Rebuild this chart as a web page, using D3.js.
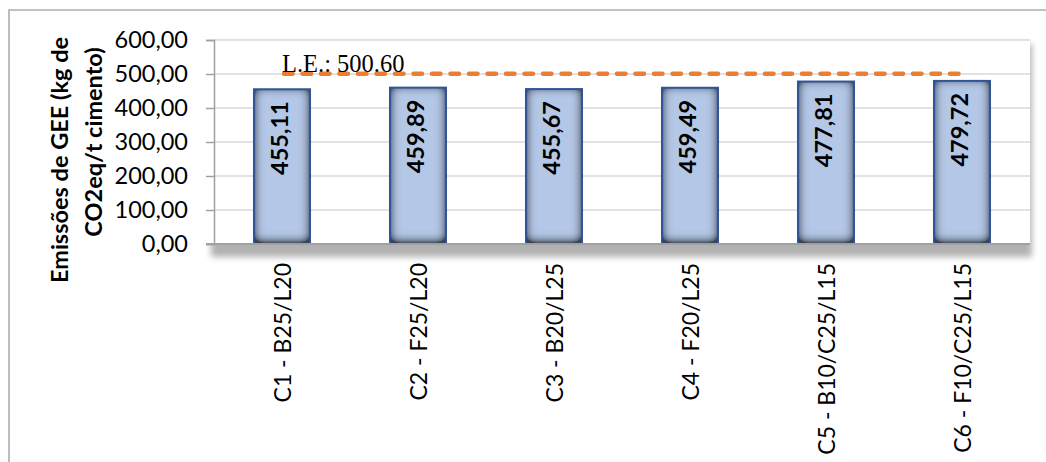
<!DOCTYPE html>
<html>
<head>
<meta charset="utf-8">
<script src="https://cdn.jsdelivr.net/npm/d3@7"></script>
<style>
  html, body { margin: 0; padding: 0; background: #fff; }
  svg { display: block; }
</style>
</head>
<body>
<svg id="chart" width="1046" height="462"></svg>
<script>
// Emissões de GEE por composição de cimento
const categories = ["C1 - B25/L20", "C2 - F25/L20", "C3 - B20/L25", "C4 - F20/L25", "C5 - B10/C25/L15", "C6 - F10/C25/L15"];
const emissions = [455.11, 459.89, 455.67, 459.49, 477.81, 479.72];
const limitValue = 500.60;
const limitLabel = "L.E.: 500.60";
const yTicks = [0, 100, 200, 300, 400, 500, 600];
const yTitleLines = ["Emissões de GEE (kg de", "CO2eq/t cimento)"];

const W = 1046, H = 462;
const plot = { left: 214, right: 1030, top: 40, bottom: 244 };
const sans = "Lato, 'Open Sans', sans-serif";

const svg = d3.select("#chart");
const defs = svg.append("defs");

// soft shadow behind the plot area
defs.append("filter").attr("id", "plotShadow")
  .attr("x", "-5%").attr("y", "-20%").attr("width", "110%").attr("height", "140%")
  .append("feGaussianBlur").attr("stdDeviation", 3);

// inner shadow giving the bars their bevelled look
const inner = defs.append("filter").attr("id", "innerShadow")
  .attr("x", "-60%").attr("y", "-30%").attr("width", "220%").attr("height", "160%");
inner.append("feComponentTransfer").attr("in", "SourceAlpha").attr("result", "inv")
  .append("feFuncA").attr("type", "table").attr("tableValues", "1 0");
inner.append("feGaussianBlur").attr("in", "inv").attr("stdDeviation", 5.5).attr("result", "blur");
inner.append("feOffset").attr("in", "blur").attr("dy", -2.5).attr("result", "off");
inner.append("feComponentTransfer").attr("in", "off").attr("result", "boost")
  .append("feFuncA").attr("type", "linear").attr("slope", 1.7).attr("intercept", 0);
inner.append("feFlood").attr("flood-color", "#222a38").attr("flood-opacity", 0.95).attr("result", "col");
inner.append("feComposite").attr("in", "col").attr("in2", "boost").attr("operator", "in").attr("result", "sh");
inner.append("feComposite").attr("in", "sh").attr("in2", "SourceAlpha").attr("operator", "in").attr("result", "innerSh");
const merge = inner.append("feMerge");
merge.append("feMergeNode").attr("in", "SourceGraphic");
merge.append("feMergeNode").attr("in", "innerSh");

// chart frame (left and top edges)
svg.append("path")
  .attr("d", `M9,${H} L9,10 L${W},10`)
  .attr("fill", "none").attr("stroke", "#ADADAD").attr("stroke-width", 1.6);

// scales
const x = d3.scaleBand()
  .domain(categories)
  .range([plot.left, plot.right])
  .paddingInner(0.588)
  .paddingOuter(0.294);

const y = d3.scaleLinear()
  .domain([0, 600])
  .range([plot.bottom, plot.top]);

// plot area with shadow
svg.append("rect")
  .attr("x", plot.left - 3).attr("y", plot.top + 4)
  .attr("width", plot.right - plot.left + 5).attr("height", plot.bottom - plot.top + 9)
  .attr("fill", "#000").attr("opacity", 0.3)
  .attr("filter", "url(#plotShadow)");
svg.append("rect")
  .attr("x", plot.left).attr("y", plot.top)
  .attr("width", plot.right - plot.left).attr("height", plot.bottom - plot.top)
  .attr("fill", "#fff");
// keep the area left of the axis clean above the shadow band
svg.append("rect")
  .attr("x", plot.left - 8).attr("y", plot.top)
  .attr("width", 8).attr("height", plot.bottom - plot.top)
  .attr("fill", "#fff");

// gridlines
svg.append("g").selectAll("line")
  .data(yTicks.filter(d => d > 0))
  .join("line")
  .attr("x1", plot.left).attr("x2", plot.right)
  .attr("y1", d => y(d)).attr("y2", d => y(d))
  .attr("stroke", "#D9D9D9").attr("stroke-width", 1.5);

// y axis
const fmt = d => d.toFixed(2).replace(".", ",");
const yAxis = svg.append("g")
  .attr("transform", `translate(${plot.left},0)`)
  .call(d3.axisLeft(y).tickValues(yTicks).tickFormat(fmt).tickSize(8).tickPadding(18));
yAxis.select(".domain").attr("stroke", "#A0A0A0").attr("stroke-width", 1.5);
yAxis.selectAll(".tick line").attr("stroke", "#A0A0A0").attr("stroke-width", 1.5);
yAxis.selectAll(".tick text")
  .attr("font-family", sans).attr("font-size", 23.5).attr("fill", "#000");

// bars
const bars = svg.append("g");
bars.selectAll("rect.fill")
  .data(emissions)
  .join("rect")
  .attr("class", "fill")
  .attr("x", (d, i) => x(categories[i]))
  .attr("y", d => y(d))
  .attr("width", x.bandwidth())
  .attr("height", d => y(0) - y(d))
  .attr("fill", "#B4C7E7")
  .attr("filter", "url(#innerShadow)");
bars.selectAll("rect.edge")
  .data(emissions)
  .join("rect")
  .attr("class", "edge")
  .attr("x", (d, i) => x(categories[i]))
  .attr("y", d => y(d))
  .attr("width", x.bandwidth())
  .attr("height", d => y(0) - y(d))
  .attr("fill", "none")
  .attr("stroke", "#2F5597").attr("stroke-width", 2);

// x axis line
svg.append("line")
  .attr("x1", plot.left - 8).attr("x2", plot.right)
  .attr("y1", y(0)).attr("y2", y(0))
  .attr("stroke", "#A0A0A0").attr("stroke-width", 2);

// value labels inside bars
svg.append("g").selectAll("text")
  .data(emissions)
  .join("text")
  .attr("transform", (d, i) => `translate(${x(categories[i]) + x.bandwidth() / 2 + 6},${y(d) + 12}) rotate(-90)`)
  .attr("text-anchor", "end")
  .attr("font-family", sans).attr("font-weight", 700).attr("font-size", 23.5)
  .attr("fill", "#000")
  .text(d => fmt(d));

// category labels
svg.append("g").selectAll("text")
  .data(categories)
  .join("text")
  .attr("transform", d => `translate(${x(d) + x.bandwidth() / 2 + 9},${plot.bottom + 19}) rotate(-90)`)
  .attr("text-anchor", "end")
  .attr("font-family", sans).attr("font-size", 23)
  .attr("fill", "#000")
  .text(d => d);

// limit line
const xFirst = x(categories[0]) + x.bandwidth() / 2;
const xLast = x(categories[categories.length - 1]) + x.bandwidth() / 2;
svg.append("line")
  .attr("x1", xFirst + 2).attr("x2", xLast - 1)
  .attr("y1", y(limitValue)).attr("y2", y(limitValue))
  .attr("stroke", "#ED7D31").attr("stroke-width", 4.5)
  .attr("stroke-linecap", "round")
  .attr("stroke-dasharray", "8.5,10");

svg.append("text")
  .attr("x", xFirst).attr("y", y(limitValue) - 2)
  .attr("font-family", "'Liberation Serif', 'Times New Roman', serif")
  .attr("font-size", 24.5).attr("fill", "#000")
  .text(limitLabel);

// y axis title
const yTitle = svg.append("g").attr("font-family", sans).attr("font-weight", 700)
  .attr("font-size", 23.5).attr("fill", "#000");
yTitle.append("text")
  .attr("transform", "translate(68,160) rotate(-90)")
  .attr("text-anchor", "middle")
  .text(yTitleLines[0]);
yTitle.append("text")
  .attr("transform", "translate(102,142) rotate(-90)")
  .attr("text-anchor", "middle")
  .text(yTitleLines[1]);
</script>
</body>
</html>
